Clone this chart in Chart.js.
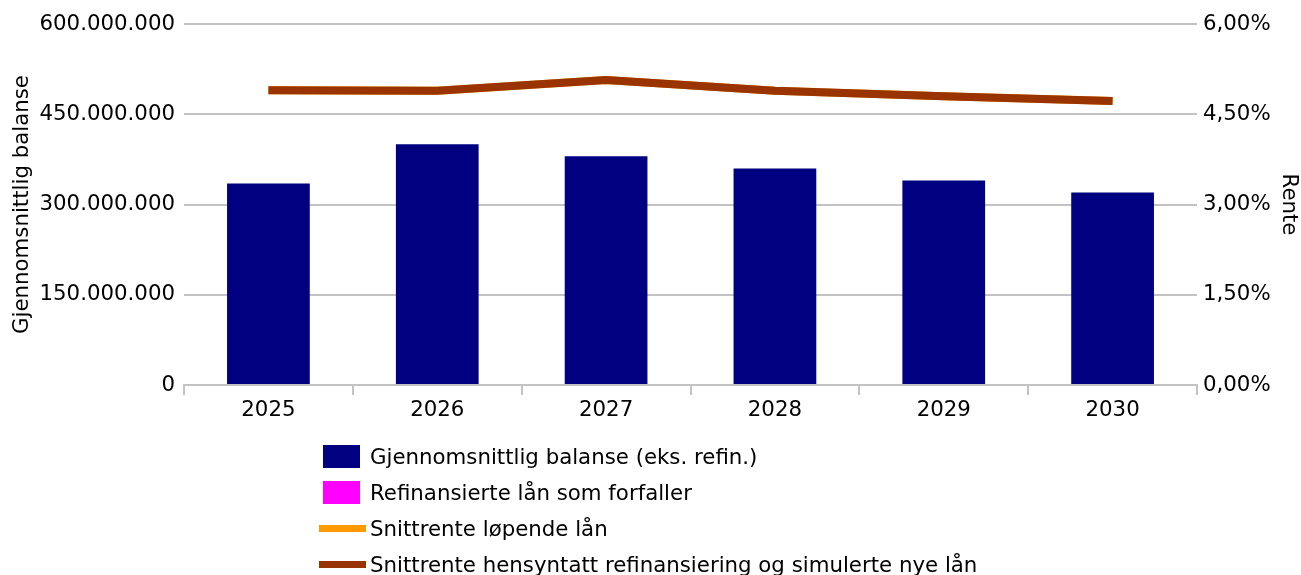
<!DOCTYPE html>
<html>
<head>
<meta charset="utf-8">
<script src="https://cdn.jsdelivr.net/npm/chart.js@4"></script>
<style>
  html, body { margin: 0; padding: 0; background: #fff; }
  #wrap { position: relative; width: 1301px; height: 575px; }
  #legend { position: absolute; left: 319px; top: 438px; font-family: "DejaVu Sans", sans-serif; font-size: 21.3px; color: #000; }
  .item { display: flex; align-items: center; height: 36px; }
  .box { width: 37px; height: 23px; margin: 0 10px 0 4px; }
  .line { width: 47px; height: 7px; margin-right: 4px; }
</style>
</head>
<body>
<div id="wrap">
  <canvas id="myChart" width="1301" height="575"></canvas>
  <div id="legend"></div>
</div>
<script>
const years = ["2025", "2026", "2027", "2028", "2029", "2030"];
const balanse = [335000000, 400000000, 380000000, 360000000, 340000000, 320000000];
const refinansiert = [0, 0, 0, 0, 0, 0];
const renteLopende = [4.90, 4.89, 5.07, 4.89, 4.80, 4.72];
const renteSimulert = [4.90, 4.89, 5.07, 4.89, 4.80, 4.72];

const font = { family: "DejaVu Sans", size: 21.3 };
const gridColor = "#c3c3c3";

const chart = new Chart(document.getElementById("myChart"), {
    type: "bar",
    data: {
        labels: years,
        datasets: [
            {
                type: "line",
                label: "Snittrente hensyntatt refinansiering og simulerte nye lån",
                data: renteSimulert,
                yAxisID: "y2",
                borderColor: "#993300",
                backgroundColor: "#993300",
                borderWidth: 8,
                pointRadius: 0,
                tension: 0,
                order: 0
            },
            {
                type: "line",
                label: "Snittrente løpende lån",
                data: renteLopende,
                yAxisID: "y2",
                borderColor: "#ff9900",
                backgroundColor: "#ff9900",
                borderWidth: 8,
                pointRadius: 0,
                tension: 0,
                order: 1
            },
            {
                label: "Gjennomsnittlig balanse (eks. refin.)",
                data: balanse,
                backgroundColor: "#000080",
                yAxisID: "y",
                stack: "s",
                barPercentage: 0.49,
                categoryPercentage: 1,
                order: 2
            },
            {
                label: "Refinansierte lån som forfaller",
                data: refinansiert,
                backgroundColor: "#ff00ff",
                yAxisID: "y",
                stack: "s",
                barPercentage: 0.49,
                categoryPercentage: 1,
                order: 3
            }
        ]
    },
    options: {
        responsive: false,
        animation: false,
        layout: { padding: { top: 24, left: 0, right: 0, bottom: 0 } },
        plugins: {
            legend: { display: false },
            tooltip: { enabled: false }
        },
        scales: {
            x: {
                stacked: true,
                grid: { offset: true, drawOnChartArea: false, color: gridColor, lineWidth: 2, tickLength: 10 },
                border: { display: true, color: gridColor, width: 2 },
                ticks: { font: font, color: "#000", padding: 3 },
                afterFit: (axis) => { axis.height = 190; }
            },
            y: {
                position: "left",
                stacked: true,
                min: 0,
                max: 600000000,
                grid: { color: gridColor, lineWidth: 2, drawTicks: false },
                border: { display: false },
                ticks: {
                    stepSize: 150000000,
                    font: font,
                    color: "#000",
                    padding: 9,
                    callback: (v) => v.toLocaleString("de-DE")
                },
                title: { display: true, text: "Gjennomsnittlig balanse", font: font, color: "#000", padding: { top: 10, bottom: 0 } },
                afterFit: (axis) => { axis.width = 184; }
            },
            y2: {
                position: "right",
                min: 0,
                max: 6,
                grid: { drawOnChartArea: false, drawTicks: false },
                border: { display: false },
                ticks: {
                    stepSize: 1.5,
                    font: font,
                    color: "#000",
                    padding: 6,
                    callback: (v) => v.toFixed(2).replace(".", ",") + "%"
                },
                title: { display: true, text: "Rente", font: font, color: "#000", padding: 0 },
                afterFit: (axis) => { axis.width = 104; }
            }
        }
    }
});

// legend in the order of the original
const legendOrder = [2, 3, 1, 0];
const legend = document.getElementById("legend");
legendOrder.forEach(i => {
    const ds = chart.data.datasets[i];
    const row = document.createElement("div");
    row.className = "item";
    const mark = document.createElement("span");
    mark.className = ds.type === "line" ? "line" : "box";
    mark.style.background = ds.type === "line" ? ds.borderColor : ds.backgroundColor;
    const txt = document.createElement("span");
    txt.textContent = ds.label;
    row.appendChild(mark);
    row.appendChild(txt);
    legend.appendChild(row);
});
</script>
</body>
</html>
